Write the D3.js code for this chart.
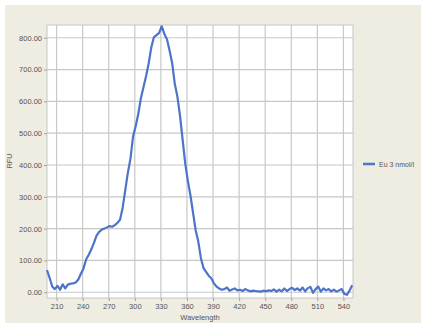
<!DOCTYPE html>
<html>
<head>
<meta charset="utf-8">
<script src="https://cdn.jsdelivr.net/npm/d3@7"></script>
<style>
  body { margin: 0; background: #fff; }
  text { font-family: "Liberation Sans", Arial, sans-serif; }
</style>
</head>
<body>
<div id="chart"></div>
<script>
// wavelength (nm) and RFU
var wavelengths = [
	199, 202, 205, 208, 211, 214, 217, 220, 223, 226, 229, 232, 235, 238, 241, 244,
	247, 250, 253, 256, 259, 262, 265, 268, 271, 274, 277, 280, 283, 286, 289, 292,
	295, 298, 301, 304, 307, 310, 313, 316, 319, 322, 325, 328, 331, 334, 337, 340,
	343, 346, 349, 352, 355, 358, 361, 364, 367, 370, 373, 376, 379, 382, 385, 388,
	391, 394, 397, 400, 403, 406, 409, 412, 415, 418, 421, 424, 427, 430, 433, 436,
	439, 442, 445, 448, 451, 454, 457, 460, 463, 466, 469, 472, 475, 478, 481, 484,
	487, 490, 493, 496, 499, 502, 505, 508, 511, 514, 517, 520, 523, 526, 529, 532,
	535, 538, 541, 544, 547, 550
];
var rfu = [
	70, 45, 18, 10, 20, 8, 25, 12, 24, 27, 28, 31, 40, 58, 75, 103,
	118, 135, 155, 178, 190, 197, 200, 204, 208, 206, 211, 218, 228, 265, 320, 375,
	420, 490, 522, 560, 610, 645, 680, 720, 770, 802, 808, 815, 836, 812, 795, 760,
	720, 655, 615, 555, 480, 405, 350, 305, 250, 195, 160, 108, 76, 64, 52, 44,
	28, 18, 12, 8, 10, 15, 5, 9, 12, 6, 8, 4, 10, 6, 3, 5,
	4, 3, 2, 5, 3, 6, 4, 9, 2, 8, 3, 12, 4, 10, 14, 7,
	12, 5, 15, 3, 13, 17, -2, 10, 18, 2, 12, 6, 10, 3, 8, 2,
	6, 10, -5, -8, 5, 22
];
var x_ticks = [210, 240, 270, 300, 330, 360, 390, 420, 450, 480, 510, 540];
var y_ticks = [0, 100, 200, 300, 400, 500, 600, 700, 800];
var series_name = 'Eu 3 nmol/l';

var chart_width = 426;
var chart_height = 326;
var plot = { left: 47, top: 25, right: 353, bottom: 298 };

var svg = d3.select('#chart')
	.append('svg')
	.attr('width', chart_width)
	.attr('height', chart_height);

// beige panel
svg.append('rect')
	.attr('x', 5).attr('y', 5)
	.attr('width', 416).attr('height', 318)
	.attr('fill', '#efece1');

var x_scale = d3.scaleLinear()
	.domain([199, 551])
	.range([plot.left, plot.right]);

var y_scale = d3.scaleLinear()
	.domain([-18, 840])
	.range([plot.bottom, plot.top]);

svg.append('rect')
	.attr('x', plot.left).attr('y', plot.top)
	.attr('width', plot.right - plot.left)
	.attr('height', plot.bottom - plot.top)
	.attr('fill', '#fff')
	.attr('stroke', '#c6c6c6');

// grid
svg.append('g')
	.selectAll('line')
	.data(x_ticks)
	.enter()
	.append('line')
	.attr('x1', function(d){ return x_scale(d); })
	.attr('x2', function(d){ return x_scale(d); })
	.attr('y1', plot.top)
	.attr('y2', plot.bottom)
	.attr('stroke', '#c8c8c8')
	.attr('stroke-width', 1.2);

svg.append('g')
	.selectAll('line')
	.data(y_ticks)
	.enter()
	.append('line')
	.attr('x1', plot.left)
	.attr('x2', plot.right)
	.attr('y1', function(d){ return y_scale(d); })
	.attr('y2', function(d){ return y_scale(d); })
	.attr('stroke', '#c8c8c8')
	.attr('stroke-width', 1.2);

// axes
var x_axis = d3.axisBottom(x_scale)
	.tickValues(x_ticks)
	.tickSize(3)
	.tickPadding(3);

var y_axis = d3.axisLeft(y_scale)
	.tickValues(y_ticks)
	.tickFormat(d3.format('.2f'))
	.tickSize(3)
	.tickPadding(2);

var gx = svg.append('g')
	.attr('transform', 'translate(0,' + plot.bottom + ')')
	.call(x_axis);

var gy = svg.append('g')
	.attr('transform', 'translate(' + plot.left + ',0)')
	.call(y_axis);

[gx, gy].forEach(function(g){
	g.select('.domain').remove();
	g.selectAll('line').attr('stroke', '#a0a0a0');
	g.selectAll('text')
		.attr('fill', '#555')
		.style('font-size', '7.5px');
});

// line
var line = d3.line()
	.x(function(d, i){ return x_scale(wavelengths[i]); })
	.y(function(d){ return y_scale(d); });

svg.append('path')
	.datum(rfu)
	.attr('d', line)
	.attr('fill', 'none')
	.attr('stroke', '#4d74c8')
	.attr('stroke-width', 2.2)
	.attr('stroke-linejoin', 'round');

// axis titles
svg.append('text')
	.text('Wavelength')
	.attr('x', 200)
	.attr('y', 320)
	.attr('text-anchor', 'middle')
	.attr('fill', '#555')
	.style('font-size', '7.5px');

svg.append('text')
	.text('RFU')
	.attr('transform', 'translate(12,161) rotate(-90)')
	.attr('text-anchor', 'middle')
	.attr('fill', '#555')
	.style('font-size', '7px');

// legend
svg.append('line')
	.attr('x1', 363).attr('x2', 375)
	.attr('y1', 164).attr('y2', 164)
	.attr('stroke', '#4d74c8')
	.attr('stroke-width', 2.5);

svg.append('text')
	.text(series_name)
	.attr('x', 379)
	.attr('y', 166.5)
	.attr('fill', '#555')
	.style('font-size', '7px');
</script>
</body>
</html>
